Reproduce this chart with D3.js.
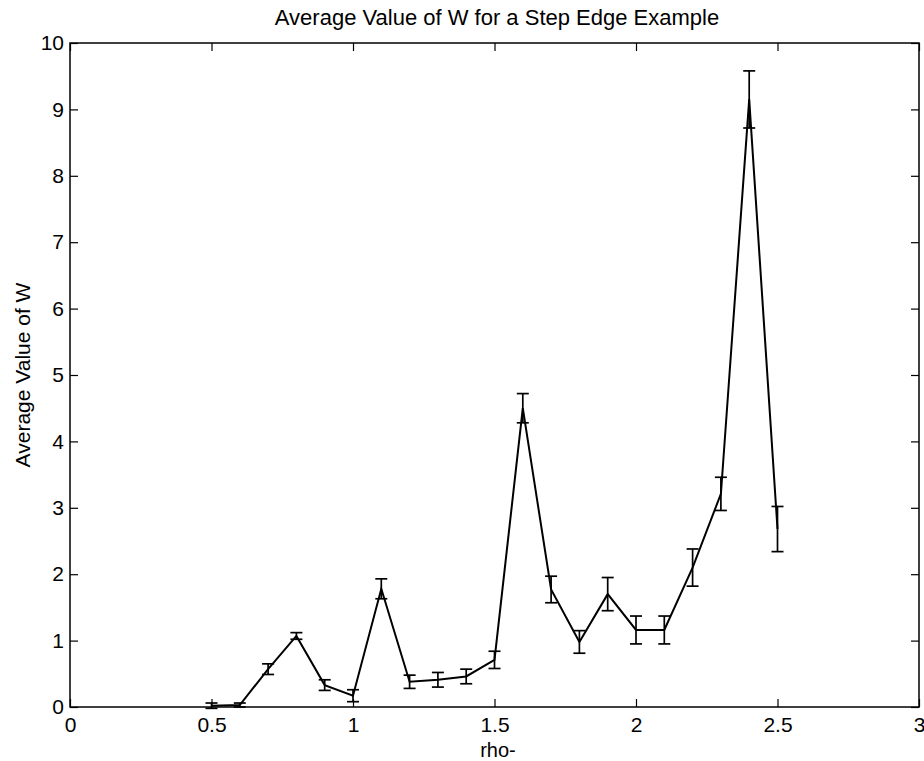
<!DOCTYPE html>
<html>
<head>
<meta charset="utf-8">
<script src="https://cdn.jsdelivr.net/npm/d3@7"></script>
<style>
  body { margin: 0; background: #fff; }
  text { font-family: "Liberation Sans", Arial, Helvetica, sans-serif; fill: #000; }
</style>
</head>
<body>
<div id="chart"></div>
<script>
var rho = [0.5, 0.6, 0.7, 0.8, 0.9, 1.0, 1.1, 1.2, 1.3, 1.4, 1.5,
           1.6, 1.7, 1.8, 1.9, 2.0, 2.1, 2.2, 2.3, 2.4, 2.5];
var avgW = [0.02, 0.03, 0.57, 1.07, 0.33, 0.17, 1.78, 0.38, 0.41, 0.46, 0.71,
            4.5, 1.77, 0.98, 1.7, 1.16, 1.16, 2.1, 3.21, 9.15, 2.68];
var errW = [0.04, 0.03, 0.08, 0.05, 0.08, 0.09, 0.15, 0.1, 0.11, 0.11, 0.13,
            0.22, 0.2, 0.17, 0.25, 0.21, 0.21, 0.28, 0.25, 0.43, 0.34];
var xTicks = [0, 0.5, 1, 1.5, 2, 2.5, 3];
var yTicks = [0, 1, 2, 3, 4, 5, 6, 7, 8, 9, 10];

function init() {
    var w = 924;
    var h = 761;
    var left = 70, right = 919, top = 43, bottom = 707;

    var svg = d3.select("#chart")
                .append("svg")
                .attr("width", w)
                .attr("height", h);

    var x = d3.scaleLinear().domain([0, 3]).range([left, right]);
    var y = d3.scaleLinear().domain([0, 10]).range([bottom, top]);

    // box
    svg.append("rect")
       .attr("x", left).attr("y", top)
       .attr("width", right - left).attr("height", bottom - top)
       .attr("fill", "none").attr("stroke", "#000").attr("stroke-width", 1.5);

    var tl = 8;
    var fmt = function(d) { return d3.format("~g")(d); };

    svg.append("g").attr("transform", "translate(0," + bottom + ")")
       .call(d3.axisBottom(x).tickValues(xTicks).tickSizeInner(-tl).tickSizeOuter(0).tickPadding(10).tickFormat(fmt));
    svg.append("g").attr("transform", "translate(0," + top + ")")
       .call(d3.axisTop(x).tickValues(xTicks).tickSizeInner(-tl).tickSizeOuter(0).tickFormat(""));
    svg.append("g").attr("transform", "translate(" + left + ",0)")
       .call(d3.axisLeft(y).tickValues(yTicks).tickSizeInner(-tl).tickSizeOuter(0).tickPadding(6).tickFormat(fmt));
    svg.append("g").attr("transform", "translate(" + right + ",0)")
       .call(d3.axisRight(y).tickValues(yTicks).tickSizeInner(-tl).tickSizeOuter(0).tickFormat(""));

    svg.selectAll(".domain").remove();
    svg.selectAll(".tick line").attr("stroke", "#000").attr("stroke-width", 1.2);
    svg.selectAll(".tick text").attr("font-size", 21).attr("fill", "#000")
       .style("font-family", "'Liberation Sans', Arial, sans-serif");

    var data = rho.map(function(r, i) { return {x: r, y: avgW[i], e: errW[i]}; });

    // error bars
    var eb = svg.selectAll("g.err").data(data).enter().append("g").attr("class", "err")
                .attr("stroke", "#000").attr("stroke-width", 1.7);
    var cap = 6;
    eb.append("line")
      .attr("x1", function(d) { return x(d.x); }).attr("x2", function(d) { return x(d.x); })
      .attr("y1", function(d) { return y(d.y + d.e); }).attr("y2", function(d) { return y(d.y - d.e); });
    eb.append("line")
      .attr("x1", function(d) { return x(d.x) - cap; }).attr("x2", function(d) { return x(d.x) + cap; })
      .attr("y1", function(d) { return y(d.y + d.e); }).attr("y2", function(d) { return y(d.y + d.e); });
    eb.append("line")
      .attr("x1", function(d) { return x(d.x) - cap; }).attr("x2", function(d) { return x(d.x) + cap; })
      .attr("y1", function(d) { return y(d.y - d.e); }).attr("y2", function(d) { return y(d.y - d.e); });

    var line = d3.line().x(function(d) { return x(d.x); }).y(function(d) { return y(d.y); });
    svg.append("path").datum(data)
       .attr("d", line)
       .attr("fill", "none").attr("stroke", "#000").attr("stroke-width", 2);

    svg.append("text").attr("x", 497).attr("y", 25)
       .attr("text-anchor", "middle").attr("font-size", 22)
       .text("Average Value of W for a Step Edge Example");
    svg.append("text").attr("x", 498).attr("y", 757)
       .attr("text-anchor", "middle").attr("font-size", 20)
       .text("rho-");
    svg.append("text").attr("transform", "translate(30," + 375 + ") rotate(-90)")
       .attr("text-anchor", "middle").attr("font-size", 21)
       .text("Average Value of W");
}
window.onload = init;
</script>
</body>
</html>
